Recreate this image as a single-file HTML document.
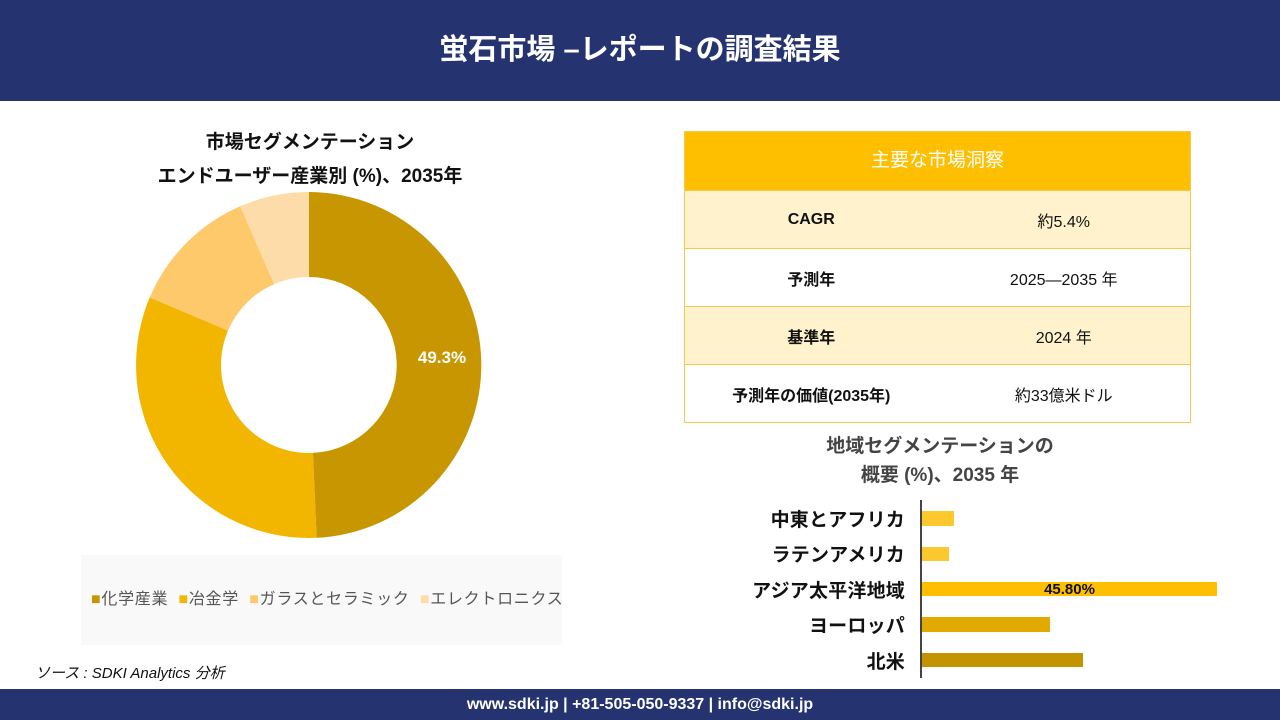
<!DOCTYPE html>
<html><head><meta charset="utf-8"><style>
*{margin:0;padding:0;box-sizing:border-box}
body{width:1280px;height:720px;position:relative;background:#fff;font-family:"Liberation Sans","Noto Sans CJK JP",sans-serif;overflow:hidden}
.abs{position:absolute}
.hdr{left:0;top:0;width:1280px;height:101px;background:#253470;color:#fff;font-size:29px;font-weight:bold;text-align:center;line-height:101px}
.ftr{left:0;top:689px;width:1280px;height:31px;background:#253470;color:#fff;font-size:16px;font-weight:bold;text-align:center;line-height:31px}
.ttl{font-weight:bold;font-size:19px;color:#111;text-align:center}
.tbl{left:684px;top:131px;width:507px;border:1px solid #f2c94c}
.row{display:flex;height:58px;align-items:center;border-top:1px solid #f2c94c;font-size:16px;color:#111}
.row div{flex:1;text-align:center}
.row .k{font-weight:bold}
.bar{position:absolute;left:922px}
.lbl{position:absolute;right:375px;font-size:19px;font-weight:bold;color:#111;text-align:right;letter-spacing:0.2px}
</style></head><body>
<div class="abs hdr">蛍石市場 –レポートの調査結果</div>
<div class="abs ttl" style="left:130px;top:126px;width:360px;line-height:34px">市場セグメンテーション<br>エンドユーザー産業別 (%)、2035年</div>
<svg class="abs" style="left:0;top:0" width="640" height="560">
<path d="M309,192 A173 173 0 0 1 316.6,537.8 L312.9,452.9 A88 88 0 0 0 309,277 Z" fill="#c89600"/>
<path d="M316.6,537.8 A173 173 0 0 1 149.8,297.4 L228,330.6 A88 88 0 0 0 312.9,452.9 Z" fill="#f2b600"/>
<path d="M149.8,297.4 A173 173 0 0 1 240.3,206.2 L274.1,284.2 A88 88 0 0 0 228,330.6 Z" fill="#fdc96a"/>
<path d="M240.3,206.2 A173 173 0 0 1 309,192 L309,277 A88 88 0 0 0 274.1,284.2 Z" fill="#fddcaa"/>
<text x="442" y="363" fill="#fff" font-size="17" font-weight="bold" text-anchor="middle" font-family="Liberation Sans">49.3%</text>
</svg>
<div class="abs" style="left:81px;top:555px;width:481px;height:90px;background:#f9f9f9;font-size:16px;color:#555;line-height:90px;padding-left:10px;white-space:nowrap;letter-spacing:0.7px">
<span style="color:#c89600">■</span>化学産業&nbsp; <span style="color:#f2b600">■</span>冶金学&nbsp; <span style="color:#fdc96a">■</span>ガラスとセラミック&nbsp; <span style="color:#fddcaa">■</span>エレクトロニクス</div>
<div class="abs" style="left:35px;top:662px;font-size:15px;font-style:italic;color:#111">ソース : SDKI Analytics 分析</div>
<div class="abs tbl">
<div style="height:58px;background:#fdbf00;color:#fff;font-size:19px;text-align:center;line-height:58px">主要な市場洞察</div>
<div class="row" style="background:#fff2cc"><div class="k">CAGR</div><div>約5.4%</div></div>
<div class="row"><div class="k">予測年</div><div>2025—2035 年</div></div>
<div class="row" style="background:#fff2cc"><div class="k">基準年</div><div>2024 年</div></div>
<div class="row"><div class="k">予測年の価値(2035年)</div><div>約33億米ドル</div></div>
</div>
<div class="abs ttl" style="left:740px;top:432px;width:400px;line-height:29px;color:#444">地域セグメンテーションの<br>概要 (%)、2035 年</div>
<div class="abs" style="left:920px;top:500px;width:2px;height:178px;background:#444"></div>
<div class="bar" style="top:511px;width:32px;height:15px;background:#fdc72e"></div>
<div class="bar" style="top:547px;width:27px;height:14px;background:#fdc72e"></div>
<div class="bar" style="top:582px;width:295px;height:14px;background:#fdbf00;font-size:15px;font-weight:bold;text-align:center;line-height:15px;color:#111">45.80%</div>
<div class="bar" style="top:617px;width:128px;height:15px;background:#e2aa00"></div>
<div class="bar" style="top:653px;width:161px;height:14px;background:#c49300"></div>
<div class="lbl" style="top:505px">中東とアフリカ</div>
<div class="lbl" style="top:540px">ラテンアメリカ</div>
<div class="lbl" style="top:576px">アジア太平洋地域</div>
<div class="lbl" style="top:611px">ヨーロッパ</div>
<div class="lbl" style="top:647px">北米</div>
<div class="abs ftr">www.sdki.jp | +81-505-050-9337 | info@sdki.jp</div>
</body></html>
